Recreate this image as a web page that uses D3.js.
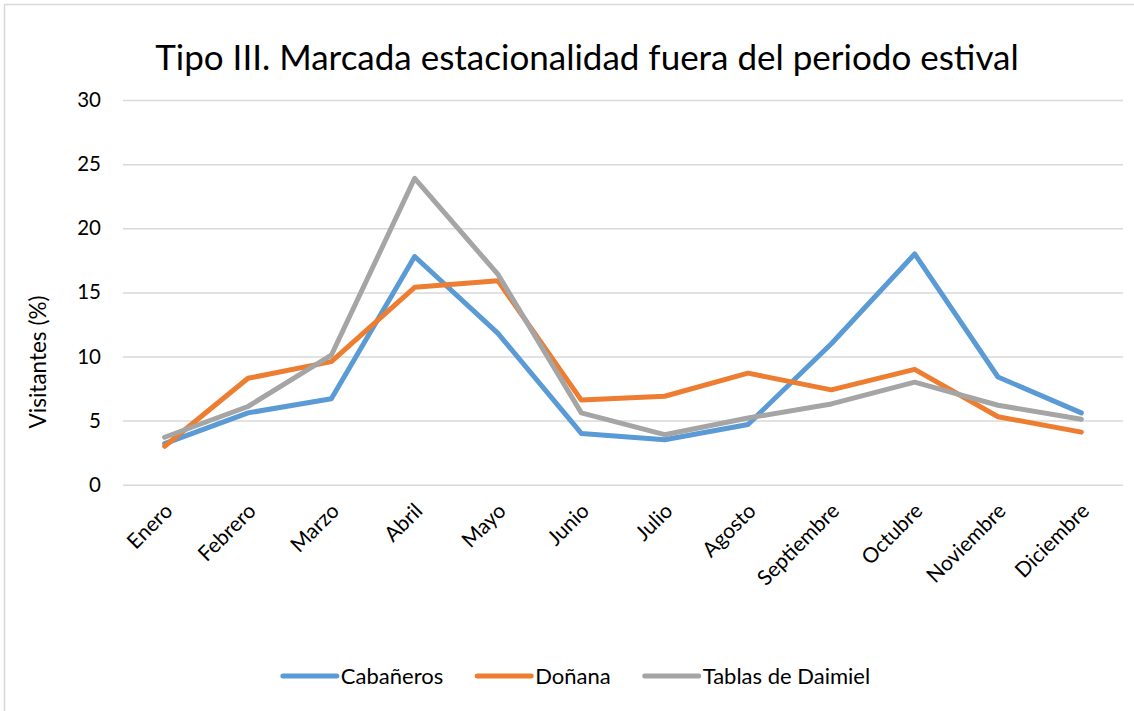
<!DOCTYPE html>
<html>
<head>
<meta charset="utf-8">
<script src="https://cdn.jsdelivr.net/npm/d3@7"></script>
<style>
  body { margin: 0; background: #fff; }
  svg { font-family: Lato, "Open Sans", sans-serif; }
</style>
</head>
<body>
<svg id="chart" width="1134" height="711"></svg>
<script>
let months = ['Enero', 'Febrero', 'Marzo', 'Abril', 'Mayo', 'Junio', 'Julio',
	'Agosto', 'Septiembre', 'Octubre', 'Noviembre', 'Diciembre'];
let cabaneros = [3.2, 5.6, 6.7, 17.8, 11.8, 4.0, 3.5, 4.7, 11.0, 18.0, 8.4, 5.6];
let donana = [3.0, 8.3, 9.6, 15.4, 15.9, 6.6, 6.9, 8.7, 7.4, 9.0, 5.3, 4.1];
let tablas = [3.7, 6.1, 10.1, 23.9, 16.4, 5.6, 3.9, 5.2, 6.3, 8.0, 6.2, 5.1];
let yTicks = [0, 5, 10, 15, 20, 25, 30];

let series = [
	{ name: 'Cabañeros', values: cabaneros, color: '#5b9bd5' },
	{ name: 'Doñana', values: donana, color: '#ed7d31' },
	{ name: 'Tablas de Daimiel', values: tablas, color: '#a5a5a5' }
];

let svg = d3.select('#chart');

// chart border
svg.append('rect')
	.attr('x', 4.5).attr('y', 4.5)
	.attr('width', 1140).attr('height', 720)
	.attr('fill', 'none')
	.attr('stroke', '#d9d9d9')
	.attr('stroke-width', 1.5);

let x = d3.scalePoint().domain(months).range([123, 1123]).padding(0.5);
let y = d3.scaleLinear().domain([0, 30]).range([484.7, 100.1]);

// gridlines + y labels
let yAxis = svg.append('g')
	.attr('transform', 'translate(123,0)')
	.call(d3.axisLeft(y).tickValues(yTicks).tickSize(-1000).tickPadding(22));
yAxis.select('.domain').remove();
yAxis.selectAll('line').attr('stroke', '#d9d9d9').attr('stroke-width', 1.5);
yAxis.selectAll('text')
	.attr('fill', '#000')
	.style('font-size', '20.5px')
	.style('font-family', 'Lato, sans-serif');

// x labels
svg.append('g')
	.selectAll('text')
	.data(months)
	.enter()
	.append('text')
	.attr('transform', (m) => 'translate(' + (x(m) + 4) + ',507) rotate(-45)')
	.attr('text-anchor', 'end')
	.attr('dy', '0.35em')
	.style('font-size', '21px')
	.text((m) => m);

// lines
let line = d3.line()
	.x((d, i) => x(months[i]))
	.y((d) => y(d));

series.forEach((s) => {
	svg.append('path')
		.datum(s.values)
		.attr('d', line)
		.attr('fill', 'none')
		.attr('stroke', s.color)
		.attr('stroke-width', 5)
		.attr('stroke-linejoin', 'round')
		.attr('stroke-linecap', 'round');
});

// title
svg.append('text')
	.attr('x', 587)
	.attr('y', 70)
	.attr('text-anchor', 'middle')
	.style('font-size', '35px')
	.text('Tipo III. Marcada estacionalidad fuera del periodo estival');

// y axis title
svg.append('text')
	.attr('transform', 'translate(46,362) rotate(-90)')
	.attr('text-anchor', 'middle')
	.style('font-size', '22.5px')
	.text('Visitantes (%)');

// legend
let legend = svg.append('g');
let lx = 0;
series.forEach((s) => {
	let g = legend.append('g').attr('transform', 'translate(' + lx + ',0)');
	g.append('line')
		.attr('x1', 0).attr('x2', 54)
		.attr('y1', 0).attr('y2', 0)
		.attr('stroke', s.color)
		.attr('stroke-width', 5)
		.attr('stroke-linecap', 'round');
	let t = g.append('text')
		.attr('x', 58)
		.attr('dy', '0.35em')
		.style('font-size', '22px')
		.text(s.name);
	lx += 58 + t.node().getComputedTextLength() + 34;
});
let legendWidth = lx - 34;
legend.attr('transform', 'translate(' + (576.5 - legendWidth / 2) + ',676)');
</script>
</body>
</html>
